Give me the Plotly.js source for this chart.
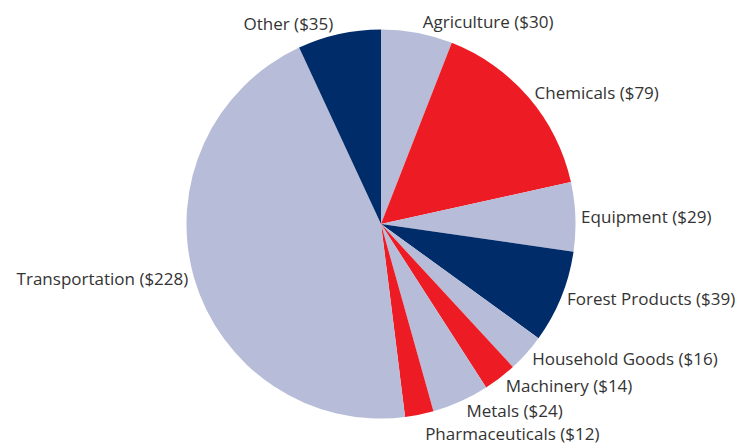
<!DOCTYPE html>
<html><head><meta charset="utf-8">
<script src="https://cdn.plot.ly/plotly-3.0.1.min.js"></script>
<style>html,body{margin:0;padding:0;background:#fff}#chart{width:742px;height:446px}#chart path.textline{display:none}</style>
</head><body><div id="chart"></div>
<script>
const categories = ["Agriculture","Chemicals","Equipment","Forest Products","Household Goods","Machinery","Metals","Pharmaceuticals","Transportation","Other"];
const values = [30,79,29,39,16,14,24,12,228,35];
const sliceColors = ["#b7bcd8","#ed1c24","#b7bcd8","#002c69","#b7bcd8","#ed1c24","#b7bcd8","#ed1c24","#b7bcd8","#002c69"];
const labels = categories.map((c,i)=>c+" ($"+values[i]+")");
const W=742,H=446,cx=381,cy=224,r=194.5;
Plotly.newPlot("chart",[{
  type:"pie",
  labels:categories,
  values:values,
  text:labels,
  textinfo:"text",
  textposition:"outside",
  hoverinfo:"none",
  sort:false,
  direction:"clockwise",
  rotation:0,
  marker:{colors:sliceColors,line:{width:0}},
  outsidetextfont:{family:"Open Sans, sans-serif",size:17,color:"#333333"},
  domain:{x:[(cx-r)/W,(cx+r)/W],y:[(H-cy-r)/H,(H-cy+r)/H]},
  automargin:false
}],{
  width:W,height:H,
  margin:{l:0,r:0,t:0,b:0},
  showlegend:false,
  paper_bgcolor:"#fff"
},{displayModeBar:false,staticPlot:true});
</script></body></html>
